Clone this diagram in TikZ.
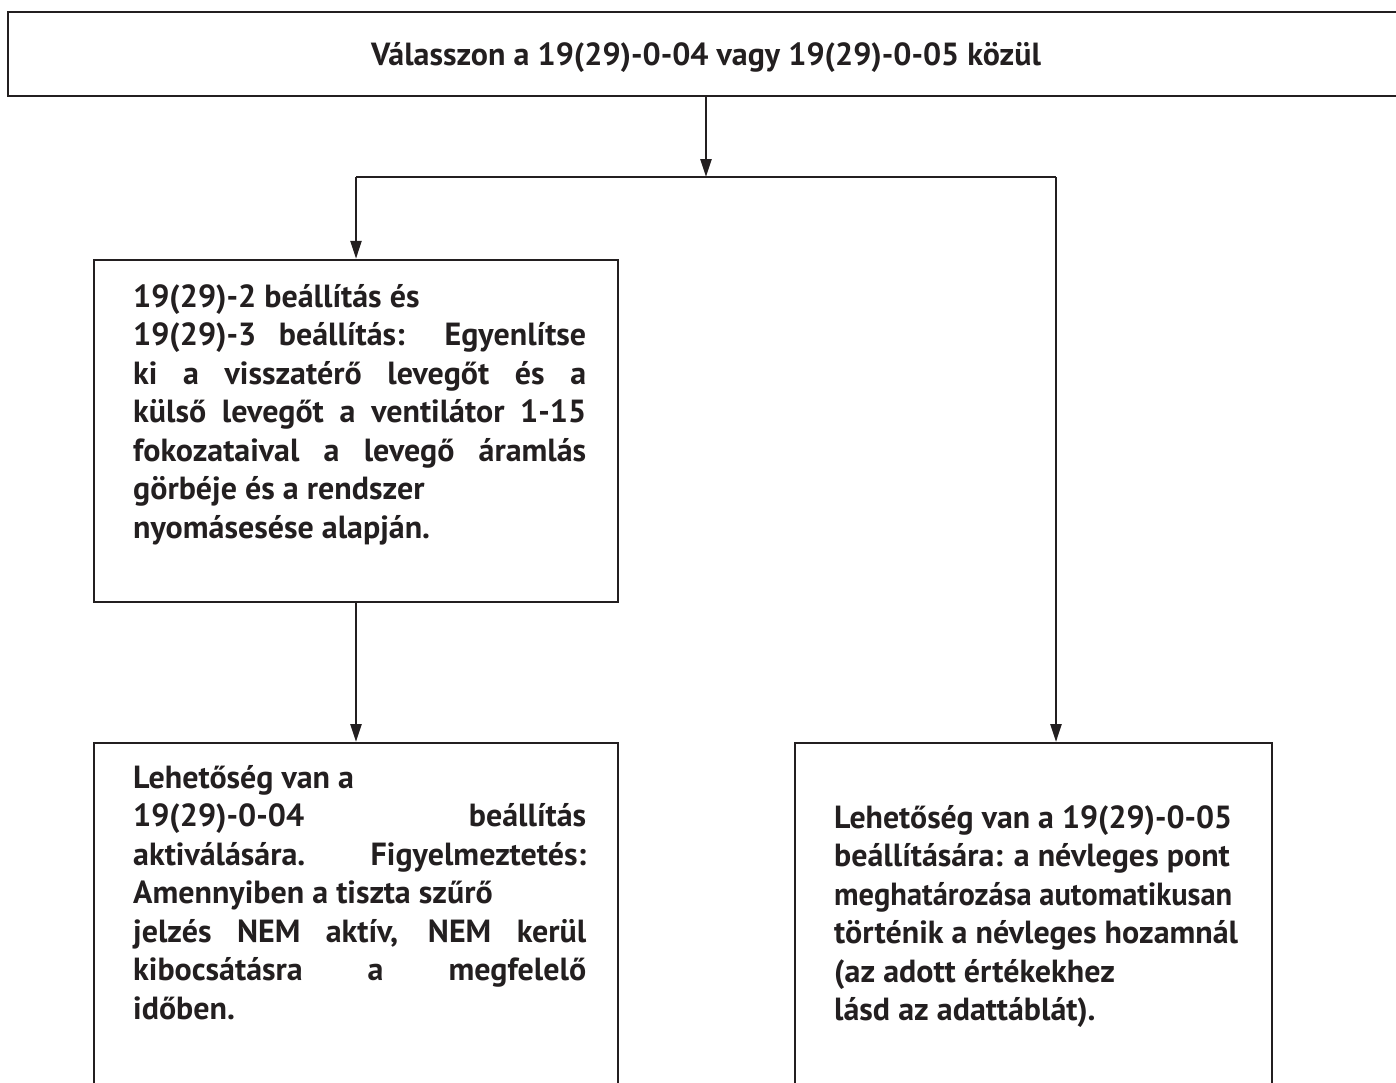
\documentclass[tikz,border=0pt]{standalone}
\usepackage{graphicx}
\usepackage{fontspec}
\setmainfont{PT Sans}
\usetikzlibrary{arrows.meta}
\definecolor{ink}{HTML}{231F20}
\newsavebox\lnbox
\newcommand\fitline[2]{\sbox\lnbox{#2}\ifdim\wd\lnbox>#1\relax
  \resizebox{#1}{\height}{#2}\else\makebox[#1][s]{#2}\fi}
\newcommand\jA[1]{\fitline{453pt}{#1}}
\newcommand\jB[1]{\fitline{398pt}{#1}}
\begin{document}
\begin{tikzpicture}[x=1pt,y=-1pt,
  box/.style={draw=ink,line width=2.4pt,inner sep=0pt},
  txt/.style={anchor=base west,inner sep=0pt,align=left,text=ink,
    font=\bfseries\fontsize{32}{38.5}\selectfont},
  conn/.style={draw=ink,line width=2.4pt},
  arr/.style={conn,-{Triangle[length=18pt,width=11pt]}}]
\useasboundingbox (0,0) rectangle (1396,1082);
\clip (0,0) rectangle (1396,1082);
% boxes
\node[box,minimum width=1396pt,minimum height=84pt] (top) at (706,54) {};
\node[box,minimum width=524pt,minimum height=342pt] (b1) at (356,431) {};
\node[box,minimum width=524pt,minimum height=420pt,anchor=north] (b2) at (356,742) {};
\node[box,minimum width=477pt,minimum height=420pt,anchor=north west] (b3) at (794,742) {};
% texts (anchored at the baseline of the last line)
\node[txt,anchor=base] (t0) at (706,65) {Válasszon a 19(29)-0-04 vagy 19(29)-0-05 közül};
\node[txt] (t1) at (133,538) {19(29)-2 beállítás és\\
\jA{19(29)-3 beállítás: Egyenlítse}\\
\jA{ki a visszatérő levegőt és a}\\
\jA{külső levegőt a ventilátor 1-15}\\
\jA{fokozataival a levegő áramlás}\\
görbéje és a rendszer\\
nyomásesése alapján.};
\node[txt] (t2) at (133,1019) {Lehetőség van a\\
\jA{19(29)-0-04 beállítás}\\
\jA{aktiválására. Figyelmeztetés:}\\
Amennyiben a tiszta szűrő\\
\jA{jelzés NEM aktív, NEM kerül}\\
\jA{kibocsátásra a megfelelő}\\
időben.};
\node[txt] (t3) at (834,1020.5) {\jB{Lehetőség van a 19(29)-0-05}\\
beállítására: a névleges pont\\
\jB{meghatározása automatikusan}\\
történik a névleges hozamnál\\
(az adott értékekhez\\
lásd az adattáblát).};
% connectors
\coordinate (j) at (top.south |- 0,177);
\coordinate (jl) at (b1.north |- j);
\coordinate (jr) at (1056,177);
\draw[arr] (top.south) -- (j);
\draw[conn] (jl) -- (jr);
\draw[arr] (jl) -- (b1.north);
\draw[arr] (jr) -- (jr |- b3.north);
\draw[arr] (b1.south) -- (b2.north);
\end{tikzpicture}
\end{document}
